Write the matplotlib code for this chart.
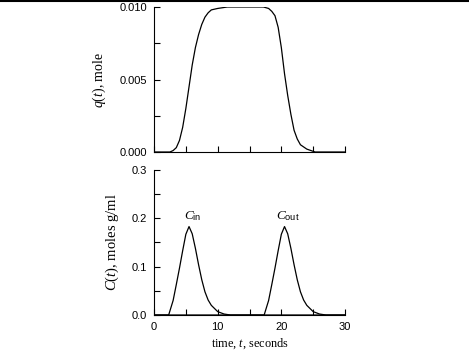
import matplotlib
matplotlib.use("Agg")
import matplotlib.pyplot as plt
from matplotlib.lines import Line2D
from matplotlib.ticker import MultipleLocator, FormatStrFormatter

plt.rcParams['mathtext.fontset'] = 'custom'
plt.rcParams['mathtext.it'] = 'Liberation Serif:italic'
plt.rcParams['mathtext.rm'] = 'Liberation Sans'
plt.rcParams['font.family'] = 'Liberation Sans'

# amount in the system, q(t)
q_time = [0.0, 2.5, 3.0, 3.5, 4.0, 4.5, 5.0, 5.5, 6.0, 6.5, 7.0, 7.5, 8.0, 8.5,
          9.0, 10.0, 11.5, 17.2, 18.0, 18.5, 19.0, 19.5, 20.0, 20.5, 21.0,
          21.5, 22.0, 22.5, 23.0, 24.0, 25.3, 30.0]
q_mole = [0.0, 0.0, 0.0001, 0.0003, 0.0008, 0.0017, 0.0030, 0.0045, 0.0060,
          0.0072, 0.0081, 0.0088, 0.0093, 0.0096, 0.0098, 0.0099, 0.0100,
          0.0100, 0.0099, 0.0097, 0.0094, 0.0086, 0.0072, 0.0054, 0.0039,
          0.0026, 0.0015, 0.0009, 0.0005, 0.0002, 0.0, 0.0]

# inlet concentration
cin_time = [0.0, 2.3, 3.0, 3.5, 4.0, 4.5, 5.0, 5.5, 6.0, 6.5, 7.0, 7.5, 8.0,
            8.5, 9.0, 10.0, 11.0, 12.0, 30.0]
cin = [0.0, 0.0, 0.030, 0.063, 0.097, 0.133, 0.167, 0.183, 0.168, 0.138,
       0.104, 0.073, 0.048, 0.031, 0.020, 0.007, 0.002, 0.0, 0.0]

# outlet concentration
cout_time = [0.0, 17.3, 18.0, 18.5, 19.0, 19.5, 20.0, 20.5, 21.0, 21.5, 22.0,
             22.5, 23.0, 23.5, 24.0, 25.0, 26.0, 27.0, 30.0]
cout = [0.0, 0.0, 0.030, 0.063, 0.097, 0.133, 0.167, 0.183, 0.168, 0.138,
        0.104, 0.073, 0.048, 0.031, 0.020, 0.007, 0.002, 0.0, 0.0]

fig = plt.figure(figsize=(4.69, 3.5), dpi=100)
fig.add_artist(Line2D([0, 1], [0.998, 0.998], color='black', lw=1.5,
                      transform=fig.transFigure))

ax1 = fig.add_axes([0.3284, 0.5657, 0.4072, 0.4143])
ax2 = fig.add_axes([0.3284, 0.1, 0.4072, 0.4143])

serif = 'Liberation Serif'


def style(ax):
    ax.spines['top'].set_visible(False)
    ax.spines['right'].set_visible(False)
    ax.set_xlim(0, 30)
    ax.xaxis.set_major_locator(MultipleLocator(10))
    ax.xaxis.set_minor_locator(MultipleLocator(5))
    ax.tick_params(which='both', direction='in', length=4, width=0.8,
                   labelsize=8, pad=5)
    for s in ax.spines.values():
        s.set_linewidth(0.8)


ax1.plot(q_time, q_mole, color='black', lw=0.9)
style(ax1)
ax1.set_ylim(0, 0.010)
ax1.yaxis.set_major_locator(MultipleLocator(0.005))
ax1.yaxis.set_minor_locator(MultipleLocator(0.0025))
ax1.yaxis.set_major_formatter(FormatStrFormatter('%.3f'))
ax1.tick_params(axis='x', labelbottom=False)
ax1.set_ylabel(r'$q$($t$), mole', fontfamily=serif, fontsize=10, labelpad=8)

ax2.plot(cin_time, cin, color='black', lw=0.9)
ax2.plot(cout_time, cout, color='black', lw=0.9)
style(ax2)
ax2.set_ylim(0, 0.3)
ax2.yaxis.set_major_locator(MultipleLocator(0.1))
ax2.yaxis.set_minor_locator(MultipleLocator(0.05))
ax2.yaxis.set_major_formatter(FormatStrFormatter('%.1f'))
ax2.set_ylabel(r'$C$($t$), moles g/ml', fontfamily=serif, fontsize=10.5,
               labelpad=8)
ax2.set_xlabel(r'time, $t$, seconds', fontfamily=serif, fontsize=8.8,
               labelpad=3)

ax2.text(6.1, 0.19, r'$C_{\rm in}$', fontsize=9.5, ha='center', va='bottom')
ax2.text(21.1, 0.19, r'$C_{\rm out}$', fontsize=9.5, ha='center', va='bottom')

fig.savefig('out.png', dpi=100)
